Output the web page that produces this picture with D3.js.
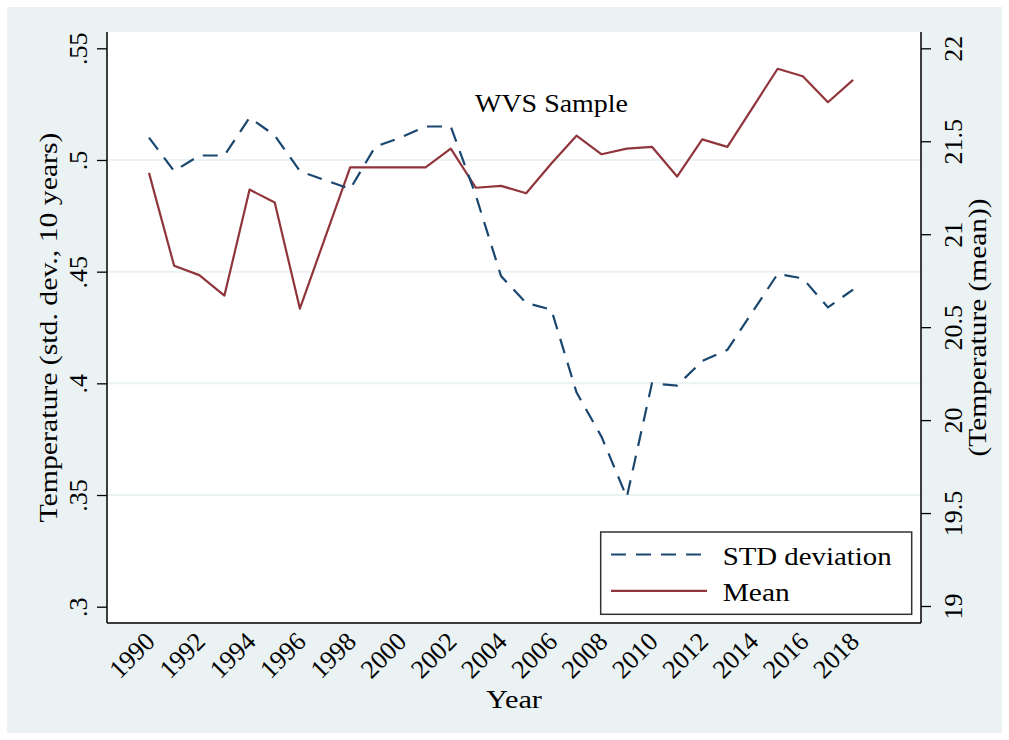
<!DOCTYPE html>
<html>
<head>
<meta charset="utf-8">
<script src="https://cdn.jsdelivr.net/npm/d3@7"></script>
<style>
  body { margin: 0; background: #fff; }
  text { font-family: "Liberation Serif", "Times New Roman", serif; fill: #000; }
</style>
</head>
<body>
<div id="chart"></div>
<script>
const years = d3.range(1990, 2019);
const stdDev = [0.510, 0.495, 0.502, 0.502, 0.519, 0.511, 0.495, 0.491, 0.487, 0.506,
  0.510, 0.515, 0.515, 0.484, 0.448, 0.436, 0.433, 0.396, 0.376, 0.349,
  0.400, 0.399, 0.410, 0.415, 0.432, 0.449, 0.447, 0.434, 0.442];
const meanTemp = [21.33, 20.83, 20.78, 20.67, 21.24, 21.17, 20.60, 20.98, 21.36, 21.36,
  21.36, 21.36, 21.46, 21.25, 21.26, 21.22, 21.38, 21.53, 21.43, 21.46,
  21.47, 21.31, 21.51, 21.47, 21.68, 21.89, 21.85, 21.71, 21.83];
const leftTicks = [0.3, 0.35, 0.4, 0.45, 0.5, 0.55];
const leftTickLabels = [".3", ".35", ".4", ".45", ".5", ".55"];
const rightTicks = [19, 19.5, 20, 20.5, 21, 21.5, 22];
const xTicks = d3.range(1990, 2019, 2);
const seriesNames = ["STD deviation", "Mean"];

const navy = "#1a476f";
const maroon = "#90353b";
const bg = "#eaf2f3";
const serif = "'Liberation Serif', 'Times New Roman', serif";

let width = 1009, height = 740;
let plot = { left: 107, right: 921, top: 32, bottom: 623 };

let svg = d3.select("#chart")
  .append("svg")
    .attr("width", width)
    .attr("height", height);

svg.append("rect")
  .attr("x", 7).attr("y", 7)
  .attr("width", 995).attr("height", 726)
  .attr("fill", bg);

svg.append("rect")
  .attr("x", plot.left).attr("y", plot.top)
  .attr("width", plot.right - plot.left).attr("height", plot.bottom - plot.top)
  .attr("fill", "#fff");

let x = d3.scaleLinear()
  .domain([1988.33, 2020.70])
  .range([plot.left, plot.right]);

let yL = d3.scaleLinear()
  .domain([0.3, 0.55])
  .range([606.7, 48.3]);

let yR = d3.scaleLinear()
  .domain([19, 22])
  .range([606, 48.3]);

// gridlines
svg.append("g")
  .selectAll("line")
  .data(leftTicks.filter(d => d > 0.3 && d < 0.55))
  .enter()
  .append("line")
    .attr("x1", plot.left).attr("x2", plot.right)
    .attr("y1", d => yL(d)).attr("y2", d => yL(d))
    .attr("stroke", bg)
    .attr("stroke-width", 2);

// left axis
let gl = svg.append("g")
  .attr("transform", "translate(" + plot.left + ",0)")
  .call(d3.axisLeft(yL).tickValues(leftTicks).tickSize(10).tickFormat((d, i) => leftTickLabels[i]));
gl.select(".domain").attr("d", "M0," + plot.top + "V" + plot.bottom).attr("stroke-width", 1.5);
gl.selectAll(".tick line").attr("stroke-width", 1.3);
gl.selectAll(".tick text")
  .attr("x", 0).attr("y", 0).attr("dy", null)
  .attr("transform", "translate(-20,0) rotate(-90)")
  .attr("text-anchor", "middle");

// right axis
let gr = svg.append("g")
  .attr("transform", "translate(" + plot.right + ",0)")
  .call(d3.axisRight(yR).tickValues(rightTicks).tickSize(10).tickFormat(d3.format("")));
gr.select(".domain").attr("d", "M0," + plot.top + "V" + plot.bottom).attr("stroke-width", 1.5);
gr.selectAll(".tick line").attr("stroke-width", 1.3);
gr.selectAll(".tick text")
  .attr("x", 0).attr("y", 0).attr("dy", null)
  .attr("transform", "translate(41,0) rotate(-90)")
  .attr("text-anchor", "middle");

// bottom axis
let gb = svg.append("g")
  .attr("transform", "translate(0," + plot.bottom + ")")
  .call(d3.axisBottom(x).tickValues(xTicks).tickSize(0).tickFormat(d3.format("d")));
gb.select(".domain").attr("d", "M" + plot.left + ",0H" + plot.right).attr("stroke-width", 1.5);
gb.selectAll(".tick text")
  .attr("x", 0).attr("y", 0).attr("dy", null)
  .attr("transform", "translate(7,20) rotate(-45)")
  .attr("text-anchor", "end");

[gl, gr, gb].forEach(g => {
  g.attr("font-family", serif).attr("font-size", 26);
  g.selectAll(".tick text").style("font-family", serif).style("font-size", "26px");
});
svg.selectAll(".domain, .tick line").attr("stroke", "#000");

// axis titles
svg.append("text")
  .attr("transform", "translate(57," + (plot.top + plot.bottom) / 2 + ") rotate(-90)")
  .attr("text-anchor", "middle")
  .attr("textLength", 390).attr("lengthAdjust", "spacingAndGlyphs")
  .style("font-size", "26px")
  .text("Temperature (std. dev., 10 years)");

svg.append("text")
  .attr("transform", "translate(986," + (plot.top + plot.bottom) / 2 + ") rotate(-90)")
  .attr("text-anchor", "middle")
  .attr("textLength", 258).attr("lengthAdjust", "spacingAndGlyphs")
  .style("font-size", "26px")
  .text("(Temperature (mean))");

svg.append("text")
  .attr("x", (plot.left + plot.right) / 2).attr("y", 708)
  .attr("text-anchor", "middle")
  .attr("textLength", 56).attr("lengthAdjust", "spacingAndGlyphs")
  .style("font-size", "26px")
  .text("Year");

svg.append("text")
  .attr("x", 475).attr("y", 112)
  .attr("textLength", 153).attr("lengthAdjust", "spacingAndGlyphs")
  .style("font-size", "26px")
  .text("WVS Sample");

// lines
let lineL = d3.line().x((d, i) => x(years[i])).y(d => yL(d));
let lineR = d3.line().x((d, i) => x(years[i])).y(d => yR(d));

svg.append("path")
  .datum(meanTemp)
  .attr("fill", "none")
  .attr("stroke", maroon)
  .attr("stroke-width", 2.2)
  .attr("stroke-linejoin", "round")
  .attr("d", lineR);

svg.append("path")
  .datum(stdDev)
  .attr("fill", "none")
  .attr("stroke", navy)
  .attr("stroke-width", 2.2)
  .attr("stroke-dasharray", "15,10")
  .attr("d", lineL);

// legend
let legend = svg.append("g");
legend.append("rect")
  .attr("x", 600.7).attr("y", 532)
  .attr("width", 311).attr("height", 82.3)
  .attr("fill", "#fff")
  .attr("stroke", "#333")
  .attr("stroke-width", 1.5);

let rows = legend.selectAll("g.row")
  .data(seriesNames)
  .enter()
  .append("g")
    .attr("class", "row")
    .attr("transform", (d, i) => "translate(0," + (554.5 + i * 36.3) + ")");

rows.append("line")
  .attr("x1", 611).attr("x2", 707)
  .attr("stroke", (d, i) => i === 0 ? navy : maroon)
  .attr("stroke-width", 2.2)
  .attr("stroke-dasharray", (d, i) => i === 0 ? "15,10" : null);

rows.append("text")
  .attr("x", 722.7).attr("y", 10)
  .attr("textLength", (d, i) => i === 0 ? 169 : 67)
  .attr("lengthAdjust", "spacingAndGlyphs")
  .style("font-size", "26px")
  .text(d => d);
</script>
</body>
</html>
